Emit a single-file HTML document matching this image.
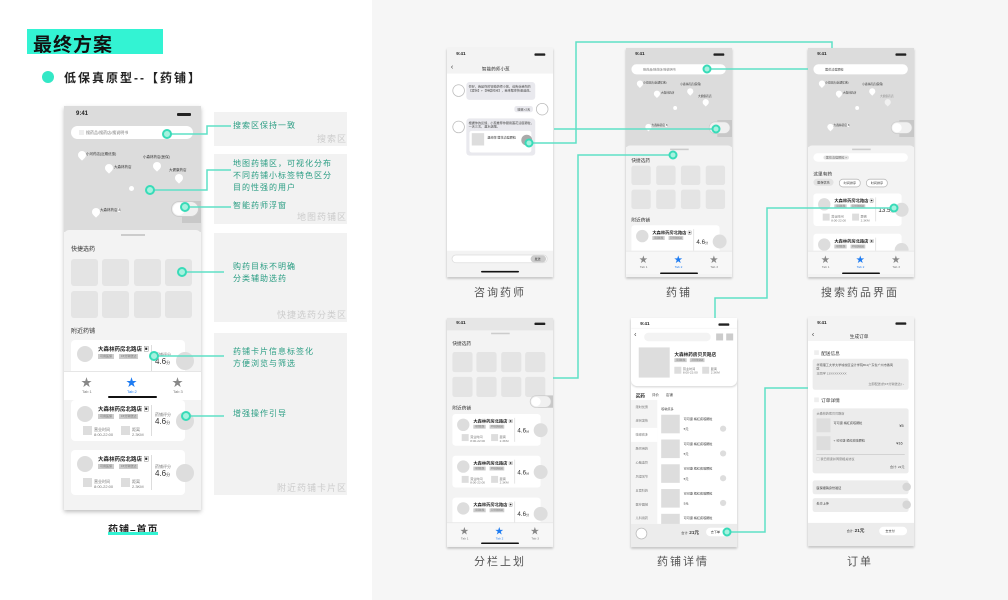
<!DOCTYPE html>
<html><head><meta charset="utf-8">
<style>
*{margin:0;padding:0;box-sizing:border-box}
body{width:1008px;height:600px;position:relative;overflow:hidden;background:#fff;font-family:"Liberation Sans","Noto Sans CJK SC",sans-serif}
.a{position:absolute}
.tx{font-size:4px;color:#777;white-space:nowrap;line-height:1.3}
.ph{position:absolute;width:137px;height:296px;transform:scale(.774);transform-origin:0 0;overflow:hidden;background:#f3f3f3;box-shadow:0 2px 3px rgba(0,0,0,.25)}
.st{font-size:6px;font-weight:bold;color:#222}
.ic{width:14px;height:3px;background:#222;border-radius:1px}
.pin{width:8px;height:8px;background:#fff;border-radius:50% 50% 50% 0;transform:rotate(-45deg)}
.pl{font-size:3.5px;color:#333;white-space:nowrap}
.card{background:#fff;border-radius:4px;width:114px;height:41px;position:absolute;overflow:visible}
.av{position:absolute;width:16px;height:16px;border-radius:50%;background:#ddd;left:6px;top:6px}
.ct{position:absolute;font-size:5.5px;font-weight:bold;color:#222;left:27px;top:5px;white-space:nowrap}
.tg{position:absolute;background:#ccc;font-size:3px;color:#777;height:5px;line-height:5px;padding:0 2px;white-space:nowrap}
.sq{position:absolute;width:9px;height:9px;background:#ddd}
.vl{position:absolute;width:1px;background:#ddd;left:80px;top:5px;height:31px}
.num{position:absolute;font-size:8px;color:#333;left:84px;top:17px}
.gc{position:absolute;width:18px;height:18px;border-radius:50%;background:#ddd;left:105px;top:12px}
.cell{position:absolute;width:27px;height:27px;background:#e4e4e4;border-radius:3px}
.tab{position:absolute;left:0;width:137px;height:30px;background:#f7f7f7;border-top:1px solid #e6e6e6}
.star{position:absolute;font-size:11px;color:#888;top:2px}
.ann{position:absolute;background:#f2f2f2;left:214px;width:133px}
.wm{position:absolute;right:0;bottom:1px;font-size:9px;color:#ccc;letter-spacing:1px}
.at{position:absolute;font-size:8px;color:#2a9d83;letter-spacing:1px;line-height:12px;left:233px;white-space:nowrap}
.cap{position:absolute;font-size:11px;color:#555;letter-spacing:2px;text-align:center;width:120px}
.hb{position:absolute;height:2px;background:#111;border-radius:1px}
.h6{font-size:6px;color:#333;white-space:nowrap}
</style></head><body>
<div class="a" style="left:372px;top:0;width:636px;height:600px;background:#f6f6f6"></div>

<div class="a" style="left:27px;top:29px;width:136px;height:25px;background:#33f3d3"></div>
<div class="a" style="left:33px;top:30px;font-size:19px;font-weight:bold;color:#111;letter-spacing:1px">最终方案</div>
<div class="a" style="left:42px;top:71px;width:12px;height:12px;border-radius:50%;background:#33e8c6"></div>
<div class="a" style="left:64px;top:69px;font-size:12px;font-weight:bold;color:#222;letter-spacing:2px">低保真原型--【药铺】</div>

<div class="ann" style="top:112px;height:34px"><div class="wm">搜索区</div></div>
<div class="ann" style="top:154px;height:70px"><div class="wm">地图药铺区</div></div>
<div class="ann" style="top:233px;height:89px"><div class="wm">快捷选药分类区</div></div>
<div class="ann" style="top:333px;height:162px"><div class="wm">附近药铺卡片区</div></div>
<div class="at" style="top:120px">搜索区保持一致</div>
<div class="at" style="top:158px">地图药铺区，可视化分布<br>不同药铺小标签特色区分<br>目的性强的用户</div>
<div class="at" style="top:200px">智能药师浮窗</div>
<div class="at" style="top:261px">购药目标不明确<br>分类辅助选药</div>
<div class="at" style="top:346px">药铺卡片信息标签化<br>方便浏览与筛选</div>
<div class="at" style="top:408px">增强操作引导</div>

<div class="a" style="left:64px;top:106px;width:137px;height:404px;background:#f3f3f3;box-shadow:0 2px 4px rgba(0,0,0,.25);overflow:hidden">
  <div class="a" style="left:0;top:0;width:137px;height:126px;background:#dcdcdc"></div>
  <div class="a st" style="left:12px;top:5px">9:41</div><div class="a ic" style="left:113px;top:7px"></div>
  <div class="a" style="left:7px;top:20px;width:122px;height:13px;background:#fff;border-radius:7px"></div>
  <div class="a" style="left:15px;top:24px;width:5px;height:5px;background:#eee"></div>
  <div class="a tx" style="left:22px;top:24px">搜药品/搜药店/搜说明书</div>
  <div class="a pin" style="left:14px;top:45px"></div><div class="a pl" style="left:22px;top:46px">小河药店(近期优惠)</div>
  <div class="a pin" style="left:41px;top:58px"></div><div class="a pl" style="left:50px;top:59px">大森林药店</div>
  <div class="a pin" style="left:89px;top:56px"></div><div class="a pl" style="left:79px;top:49px">小森林药店(医保)</div>
  <div class="a pin" style="left:111px;top:68px"></div><div class="a pl" style="left:105px;top:62px">大健康药店</div>
  <div class="a" style="left:65px;top:80px;width:5px;height:5px;border-radius:50%;background:#fff"></div>
  <div class="a pin" style="left:28px;top:102px"></div><div class="a pl" style="left:36px;top:102px">大森林药店 <span style="background:#fff">8</span></div>
  <div class="a" style="left:118px;top:95px;width:19px;height:22px;background:#c8c8c8"></div>
  <div class="a" style="left:107px;top:95px;width:28px;height:16px;border:1.5px solid #ccc;border-radius:8px;background:#f0f0f0"></div>
  <div class="a" style="left:109px;top:97px;width:12px;height:12px;border-radius:50%;background:#fff"></div>
  <div class="a" style="left:0;top:124px;width:137px;height:290px;background:#f3f3f3;border-radius:5px 5px 0 0"></div>
  <div class="a" style="left:57px;top:128px;width:24px;height:1.5px;background:#ccc"></div>
  <div class="a h6" style="left:7px;top:138px">快捷选药</div>
  <div class="cell" style="left:7px;top:153px"></div><div class="cell" style="left:38px;top:153px"></div><div class="cell" style="left:70px;top:153px"></div><div class="cell" style="left:101px;top:153px"></div>
  <div class="cell" style="left:7px;top:185px"></div><div class="cell" style="left:38px;top:185px"></div><div class="cell" style="left:70px;top:185px"></div><div class="cell" style="left:101px;top:185px"></div>
  <div class="a h6" style="left:7px;top:220px">附近药铺</div>
  <div class="card" style="left:7px;top:234px"><div class="av"></div><div class="ct">大森林药房北路店 ▣</div><div class="tg" style="left:27px;top:14px">可用医保</div><div class="tg" style="left:48px;top:14px">15分钟送达</div><div class="vl"></div><div class="tx" style="position:absolute;left:84px;top:12px">药铺评分</div><div class="num">4.6<small style="font-size:4px">分</small></div><div class="gc"></div></div>
  <div class="tab" style="top:265px;background:#fff"><div class="star" style="left:17px">★</div><div class="star" style="left:62px;color:#1e7cf2">★</div><div class="star" style="left:108px">★</div><div class="tx" style="position:absolute;left:18px;top:17px">Tab 1</div><div class="tx" style="position:absolute;left:63px;top:17px;color:#1e7cf2">Tab 2</div><div class="tx" style="position:absolute;left:109px;top:17px">Tab 3</div></div>
  <div class="hb" style="left:44px;top:290px;width:49px"></div>
  <div class="a" style="left:0;top:294px;width:137px;height:110px;background:#f3f3f3"></div>
  <div class="card" style="left:7px;top:294px"><div class="av"></div><div class="ct">大森林药房北路店 ▣</div><div class="tg" style="left:27px;top:14px">可用医保</div><div class="tg" style="left:48px;top:14px">15分钟送达</div><div class="sq" style="left:12px;top:26px"></div><div class="tx" style="position:absolute;left:23px;top:27px">营业时间<br>8:00-22:00</div><div class="sq" style="left:50px;top:26px"></div><div class="tx" style="position:absolute;left:61px;top:27px">距离<br>2.3KM</div><div class="vl"></div><div class="tx" style="position:absolute;left:84px;top:12px">药铺评分</div><div class="num">4.6<small style="font-size:4px">分</small></div><div class="gc"></div></div>
  <div class="card" style="left:7px;top:344px;height:45px"><div class="av"></div><div class="ct">大森林药房北路店 ▣</div><div class="tg" style="left:27px;top:14px">可用医保</div><div class="tg" style="left:48px;top:14px">15分钟送达</div><div class="sq" style="left:12px;top:28px"></div><div class="tx" style="position:absolute;left:23px;top:29px">营业时间<br>8:00-22:00</div><div class="sq" style="left:50px;top:28px"></div><div class="tx" style="position:absolute;left:61px;top:29px">距离<br>2.3KM</div><div class="vl" style="height:35px"></div><div class="tx" style="position:absolute;left:84px;top:14px">药铺评分</div><div class="num" style="top:19px">4.6<small style="font-size:4px">分</small></div><div class="gc" style="top:14px"></div></div>
</div>
<div class="a" style="left:108px;top:521px;font-size:10px;font-weight:bold;color:#222;letter-spacing:1px">药铺–首页</div>
<div class="a" style="left:108px;top:532px;width:50px;height:3px;background:#33f3d3"></div>

<div class="ph" style="left:447px;top:48px;background:#fff">
  <div class="a" style="left:0;top:0;width:137px;height:33px;background:#f3f3f3"></div>
  <div class="a st" style="left:12px;top:5px">9:41</div><div class="a ic" style="left:113px;top:7px"></div>
  <div class="a" style="left:5px;top:19px;font-size:9px;color:#333">‹</div>
  <div class="a h6" style="left:45px;top:22px">智能药师小葱</div>
  <div class="a" style="left:7px;top:47px;width:16px;height:16px;border-radius:50%;border:1px solid #bbb"></div>
  <div class="a tx" style="left:25px;top:44px;width:89px;height:23px;background:#e9e9ee;border-radius:4px;padding:3px;white-space:normal;color:#444">你好，我是你的智能药师小葱，请告诉我你的【症状】+【持续时间】，我来帮你快速选药。</div>
  <div class="a tx" style="left:87px;top:75px;width:24px;height:8px;background:#e9e9ee;border-radius:3px;padding:2px 4px;color:#444">咳嗽+2天</div>
  <div class="a" style="left:115px;top:71px;width:16px;height:16px;border-radius:50%;border:1px solid #bbb"></div>
  <div class="a" style="left:7px;top:94px;width:16px;height:16px;border-radius:50%;border:1px solid #bbb"></div>
  <div class="a" style="left:25px;top:91px;width:89px;height:48px;background:#e9e9ee;border-radius:4px"></div>
  <div class="a tx" style="left:28px;top:94px;width:84px;white-space:normal;color:#444">根据你的反馈，小葱推荐你服用莲花清瘟颗粒，一天三次，温水送服。</div>
  <div class="a" style="left:29px;top:107px;width:80px;height:28px;background:#fff;border-radius:3px"></div>
  <div class="a" style="left:32px;top:110px;width:16px;height:16px;background:#ddd"></div>
  <div class="a tx" style="left:52px;top:113px;color:#333">温岭牌 莲花清瘟颗粒</div>
  <div class="a" style="left:96px;top:112px;width:14px;height:14px;border-radius:50%;background:#aaa"></div>
  <div class="a" style="left:0;top:262px;width:137px;height:34px;background:#f3f3f3"></div>
  <div class="a" style="left:6px;top:267px;width:124px;height:11px;border-radius:6px;background:#fff;border:1px solid #ddd"></div>
  <div class="a tx" style="left:108px;top:268px;width:20px;height:9px;border-radius:5px;background:#ccc;padding:2px 5px;color:#444">发送</div>
  <div class="hb" style="left:44px;top:288px;width:49px"></div>
</div>

<div class="ph" style="left:626px;top:48px">
  <div class="a" style="left:0;top:0;width:137px;height:128px;background:#dcdcdc"></div>
  <div class="a st" style="left:12px;top:5px">9:41</div><div class="a ic" style="left:113px;top:7px"></div>
  <div class="a" style="left:7px;top:21px;width:122px;height:13px;background:#fff;border-radius:7px"></div>
  <div class="a tx" style="left:22px;top:25px">搜药品/搜药店/搜说明书</div>
  <div class="a pin" style="left:14px;top:42px"></div><div class="a pl" style="left:22px;top:43px">小河药店(近期优惠)</div>
  <div class="a pin" style="left:36px;top:55px"></div><div class="a pl" style="left:45px;top:56px">大森林药店</div>
  <div class="a pin" style="left:79px;top:52px"></div><div class="a pl" style="left:70px;top:45px">小森林药店(医保)</div>
  <div class="a pin" style="left:99px;top:66px"></div><div class="a pl" style="left:93px;top:60px">大健康药店</div>
  <div class="a" style="left:61px;top:75px;width:5px;height:5px;border-radius:50%;background:#fff"></div>
  <div class="a pin" style="left:25px;top:98px"></div><div class="a pl" style="left:33px;top:98px">大森林药店 <span style="background:#fff">8</span></div>
  <div class="a" style="left:118px;top:93px;width:19px;height:22px;background:#c8c8c8"></div>
  <div class="a" style="left:107px;top:95px;width:28px;height:16px;border:1.5px solid #ccc;border-radius:8px;background:#f0f0f0"></div>
  <div class="a" style="left:0;top:126px;width:137px;height:170px;background:#f3f3f3;border-radius:5px 5px 0 0"></div>
  <div class="a" style="left:57px;top:130px;width:24px;height:1.5px;background:#ccc"></div>
  <div class="a h6" style="left:7px;top:140px">快捷选药</div>
  <div class="cell" style="left:7px;top:152px;width:25px;height:25px"></div><div class="cell" style="left:39px;top:152px;width:25px;height:25px"></div><div class="cell" style="left:71px;top:152px;width:25px;height:25px"></div><div class="cell" style="left:103px;top:152px;width:25px;height:25px"></div>
  <div class="cell" style="left:7px;top:183px;width:25px;height:25px"></div><div class="cell" style="left:39px;top:183px;width:25px;height:25px"></div><div class="cell" style="left:71px;top:183px;width:25px;height:25px"></div><div class="cell" style="left:103px;top:183px;width:25px;height:25px"></div>
  <div class="a h6" style="left:7px;top:217px">附近药铺</div>
  <div class="card" style="left:7px;top:229px"><div class="av"></div><div class="ct">大森林药房北路店 ▣</div><div class="tg" style="left:27px;top:14px">可用医保</div><div class="tg" style="left:48px;top:14px">15分钟送达</div><div class="vl"></div><div class="num">4.6<small style="font-size:4px">分</small></div><div class="gc"></div></div>
  <div class="tab" style="top:262px"><div class="star" style="left:17px">★</div><div class="star" style="left:62px;color:#1e7cf2">★</div><div class="star" style="left:108px">★</div><div class="tx" style="position:absolute;left:18px;top:17px">Tab 1</div><div class="tx" style="position:absolute;left:63px;top:17px;color:#1e7cf2">Tab 2</div><div class="tx" style="position:absolute;left:109px;top:17px">Tab 3</div></div>
  <div class="hb" style="left:44px;top:290px;width:49px"></div>
</div>

<div class="ph" style="left:808px;top:48px">
  <div class="a" style="left:0;top:0;width:137px;height:128px;background:#dcdcdc"></div>
  <div class="a st" style="left:12px;top:5px">9:41</div><div class="a ic" style="left:113px;top:7px"></div>
  <div class="a" style="left:7px;top:21px;width:122px;height:13px;background:#fff;border-radius:7px"></div>
  <div class="a tx" style="left:22px;top:25px;color:#444">莲花清瘟颗粒</div>
  <div class="a pin" style="left:14px;top:42px"></div><div class="a pl" style="left:22px;top:43px">小河药店(近期优惠)</div>
  <div class="a pin" style="left:36px;top:55px"></div><div class="a pl" style="left:45px;top:56px">大森林药店</div>
  <div class="a pin" style="left:79px;top:52px"></div><div class="a pl" style="left:70px;top:45px">小森林药店(医保)</div>
  <div class="a pin" style="left:99px;top:66px;opacity:.6"></div><div class="a pl" style="left:93px;top:60px;opacity:.5">大健康药店</div>
  <div class="a" style="left:61px;top:75px;width:5px;height:5px;border-radius:50%;background:#fff"></div>
  <div class="a pin" style="left:25px;top:98px"></div><div class="a pl" style="left:33px;top:98px">大森林药店 <span style="background:#fff">8</span></div>
  <div class="a" style="left:118px;top:93px;width:19px;height:22px;background:#c8c8c8"></div>
  <div class="a" style="left:107px;top:95px;width:28px;height:16px;border:1.5px solid #ccc;border-radius:8px;background:#f0f0f0"></div>
  <div class="a" style="left:109px;top:97px;width:12px;height:12px;border-radius:50%;background:#fff"></div>
  <div class="a" style="left:0;top:126px;width:137px;height:170px;background:#f3f3f3;border-radius:5px 5px 0 0"></div>
  <div class="a" style="left:57px;top:130px;width:24px;height:1.5px;background:#ccc"></div>
  <div class="a" style="left:7px;top:136px;width:122px;height:11px;background:#fff;border-radius:6px"></div>
  <div class="a tx" style="left:20px;top:139px;background:#e2e2e2;border-radius:3px;padding:0 3px">莲花清瘟颗粒 ×</div>
  <div class="a h6" style="left:7px;top:158px">这里有药</div>
  <div class="a tx" style="left:7px;top:169px;background:#e2e2e2;border-radius:5px;padding:2px 5px;color:#444">医保优先</div>
  <div class="a tx" style="left:40px;top:169px;background:#fff;border:1px solid #bbb;border-radius:5px;padding:2px 5px;color:#444">时间排序</div>
  <div class="a tx" style="left:75px;top:169px;background:#fff;border:1px solid #bbb;border-radius:5px;padding:2px 5px;color:#444">时间排序</div>
  <div class="card" style="left:7px;top:188px;height:42px"><div class="av"></div><div class="ct">大森林药房北路店 ▣</div><div class="tg" style="left:27px;top:14px">可用医保</div><div class="tg" style="left:48px;top:14px">15分钟送达</div><div class="sq" style="left:12px;top:26px"></div><div class="tx" style="position:absolute;left:23px;top:27px">营业时间<br>8:00-22:00</div><div class="sq" style="left:50px;top:26px"></div><div class="tx" style="position:absolute;left:61px;top:27px">距离<br>2.3KM</div><div class="vl"></div><div class="num">13.5<small style="font-size:4px">元</small></div><div class="gc"></div></div>
  <div class="card" style="left:7px;top:240px"><div class="av"></div><div class="ct">大森林药房北路店 ▣</div><div class="tg" style="left:27px;top:14px">可用医保</div><div class="tg" style="left:48px;top:14px">15分钟送达</div><div class="vl"></div><div class="gc"></div></div>
  <div class="tab" style="top:262px"><div class="star" style="left:17px">★</div><div class="star" style="left:62px;color:#1e7cf2">★</div><div class="star" style="left:108px">★</div><div class="tx" style="position:absolute;left:18px;top:17px">Tab 1</div><div class="tx" style="position:absolute;left:63px;top:17px;color:#1e7cf2">Tab 2</div><div class="tx" style="position:absolute;left:109px;top:17px">Tab 3</div></div>
  <div class="hb" style="left:44px;top:290px;width:49px"></div>
</div>

<div class="ph" style="left:447px;top:318px">
  <div class="a" style="left:0;top:0;width:137px;height:16px;background:#e6e6e6"></div>
  <div class="a st" style="left:12px;top:4px">9:41</div><div class="a ic" style="left:113px;top:6px"></div>
  <div class="a" style="left:57px;top:19px;width:24px;height:1.5px;background:#ccc"></div>
  <div class="a h6" style="left:7px;top:28px">快捷选药</div>
  <div class="cell" style="left:7px;top:44px;width:26px;height:26px"></div><div class="cell" style="left:38px;top:44px;width:26px;height:26px"></div><div class="cell" style="left:70px;top:44px;width:26px;height:26px"></div><div class="cell" style="left:101px;top:44px;width:26px;height:26px"></div>
  <div class="cell" style="left:7px;top:76px;width:26px;height:26px"></div><div class="cell" style="left:38px;top:76px;width:26px;height:26px"></div><div class="cell" style="left:70px;top:76px;width:26px;height:26px"></div><div class="cell" style="left:101px;top:76px;width:26px;height:26px"></div>
  <div class="a" style="left:118px;top:100px;width:19px;height:16px;background:#c8c8c8"></div>
  <div class="a" style="left:107px;top:100px;width:28px;height:16px;border:1.5px solid #ccc;border-radius:8px;background:#f0f0f0"></div>
  <div class="a" style="left:109px;top:102px;width:12px;height:12px;border-radius:50%;background:#fff"></div>
  <div class="a h6" style="left:7px;top:111px">附近药铺</div>
  <div class="card" style="left:7px;top:124px"><div class="av"></div><div class="ct">大森林药房北路店 ▣</div><div class="tg" style="left:27px;top:14px">可用医保</div><div class="tg" style="left:48px;top:14px">15分钟送达</div><div class="sq" style="left:12px;top:26px"></div><div class="tx" style="position:absolute;left:23px;top:27px">营业时间<br>8:00-22:00</div><div class="sq" style="left:50px;top:26px"></div><div class="tx" style="position:absolute;left:61px;top:27px">距离<br>2.3KM</div><div class="vl"></div><div class="num">4.6<small style="font-size:4px">分</small></div><div class="gc"></div></div>
  <div class="card" style="left:7px;top:178px"><div class="av"></div><div class="ct">大森林药房北路店 ▣</div><div class="tg" style="left:27px;top:14px">可用医保</div><div class="tg" style="left:48px;top:14px">15分钟送达</div><div class="sq" style="left:12px;top:26px"></div><div class="tx" style="position:absolute;left:23px;top:27px">营业时间<br>8:00-22:00</div><div class="sq" style="left:50px;top:26px"></div><div class="tx" style="position:absolute;left:61px;top:27px">距离<br>2.3KM</div><div class="vl"></div><div class="num">4.6<small style="font-size:4px">分</small></div><div class="gc"></div></div>
  <div class="card" style="left:7px;top:232px"><div class="av"></div><div class="ct">大森林药房北路店 ▣</div><div class="tg" style="left:27px;top:14px">可用医保</div><div class="tg" style="left:48px;top:14px">15分钟送达</div><div class="vl"></div><div class="num">4.6<small style="font-size:4px">分</small></div><div class="gc"></div></div>
  <div class="tab" style="top:264px"><div class="star" style="left:17px">★</div><div class="star" style="left:62px;color:#1e7cf2">★</div><div class="star" style="left:108px">★</div><div class="tx" style="position:absolute;left:18px;top:17px">Tab 1</div><div class="tx" style="position:absolute;left:63px;top:17px;color:#1e7cf2">Tab 2</div><div class="tx" style="position:absolute;left:109px;top:17px">Tab 3</div></div>
  <div class="hb" style="left:44px;top:290px;width:49px"></div>
</div>

<div class="ph" style="left:631px;top:318px;background:#fff">
  <div class="a st" style="left:12px;top:5px">9:41</div><div class="a ic" style="left:113px;top:7px"></div>
  <div class="a" style="left:0;top:14px;width:137px;height:74px;background:#fff;border-radius:0 0 8px 8px;box-shadow:0 1px 3px rgba(0,0,0,.2)"></div>
  <div class="a" style="left:4px;top:16px;font-size:9px;color:#333">‹</div>
  <div class="a" style="left:17px;top:19px;width:86px;height:11px;border-radius:6px;background:#f3f3f3"></div>
  <div class="a" style="left:110px;top:20px;width:9px;height:9px;background:#ccc"></div><div class="a" style="left:123px;top:20px;width:9px;height:9px;background:#ccc"></div>
  <div class="a" style="left:10px;top:38px;width:40px;height:39px;background:#ddd"></div>
  <div class="a" style="left:56px;top:42px;font-size:6px;font-weight:bold;color:#222;white-space:nowrap">大森林药房贝贝路店</div>
  <div class="tg" style="left:56px;top:52px">可用医保</div><div class="tg" style="left:76px;top:52px">15分钟送达</div>
  <div class="sq" style="left:56px;top:63px"></div><div class="tx" style="position:absolute;left:67px;top:63px">营业时间<br>8:00-22:00</div>
  <div class="sq" style="left:92px;top:63px"></div><div class="tx" style="position:absolute;left:103px;top:63px">距离<br>2.3KM</div>
  <div class="a" style="left:6px;top:96px;font-size:6px;font-weight:bold;color:#222">买药</div>
  <div class="a tx" style="left:27px;top:97px;font-size:4.5px;color:#444">评价</div><div class="a tx" style="left:45px;top:97px;font-size:4.5px;color:#444">店铺</div>
  <div class="a" style="left:0;top:106px;width:34px;height:160px;background:#f4f4f4"></div>
  <div class="a tx" style="left:6px;top:112px">限时优惠</div><div class="a tx" style="left:6px;top:130px">感冒发热</div>
  <div class="a" style="left:0;top:142px;width:34px;height:18px;background:#fff"></div><div class="a tx" style="left:6px;top:148px">咳嗽痰多</div>
  <div class="a tx" style="left:6px;top:166px">肠胃用药</div><div class="a tx" style="left:6px;top:184px">心脑血管</div><div class="a tx" style="left:6px;top:202px">风湿关节</div><div class="a tx" style="left:6px;top:220px">五官科药</div><div class="a tx" style="left:6px;top:238px">医疗器械</div><div class="a tx" style="left:6px;top:256px">儿科用药</div>
  <div class="a tx" style="left:39px;top:115px;color:#444">咳嗽痰多</div>
  <div class="a" style="left:39px;top:125px;width:24px;height:24px;background:#ddd"></div><div class="a tx" style="left:68px;top:128px;color:#333">可可康 橘红痰咳颗粒</div><div class="a tx" style="left:68px;top:141px;color:#333">5元</div><div class="a" style="left:115px;top:139px;width:8px;height:8px;border-radius:50%;background:#ddd"></div>
  <div class="a" style="left:39px;top:157px;width:24px;height:24px;background:#ddd"></div><div class="a tx" style="left:68px;top:160px;color:#333">可可康 橘红痰咳颗粒</div><div class="a tx" style="left:68px;top:173px;color:#333">5元</div><div class="a" style="left:115px;top:171px;width:8px;height:8px;border-radius:50%;background:#ddd"></div>
  <div class="a" style="left:39px;top:189px;width:24px;height:24px;background:#ddd"></div><div class="a tx" style="left:68px;top:192px;color:#333">可可康 橘红痰咳颗粒</div><div class="a tx" style="left:68px;top:205px;color:#333">5元</div><div class="a" style="left:115px;top:203px;width:8px;height:8px;border-radius:50%;background:#ddd"></div>
  <div class="a" style="left:39px;top:221px;width:24px;height:24px;background:#ddd"></div><div class="a tx" style="left:68px;top:224px;color:#333">可可康 橘红痰咳颗粒</div><div class="a tx" style="left:68px;top:237px;color:#333">5元</div><div class="a" style="left:115px;top:235px;width:8px;height:8px;border-radius:50%;background:#ddd"></div>
  <div class="a" style="left:39px;top:253px;width:24px;height:24px;background:#ddd"></div><div class="a tx" style="left:68px;top:256px;color:#333">可可康 橘红痰咳颗粒</div>
  <div class="a" style="left:0;top:266px;width:137px;height:30px;background:#ececec"></div>
  <div class="a" style="left:6px;top:271px;width:15px;height:15px;border-radius:50%;border:1px solid #bbb;background:#fff"></div>
  <div class="a tx" style="left:65px;top:275px;color:#333">合计: <b style="font-size:6px">21元</b></div>
  <div class="a tx" style="left:97px;top:271px;width:30px;height:11px;border-radius:6px;background:#fff;padding:3px 6px;color:#333">去下单</div>
</div>

<div class="ph" style="left:808px;top:317px;background:#fff">
  <div class="a" style="left:0;top:0;width:137px;height:31px;background:#f3f3f3"></div>
  <div class="a st" style="left:12px;top:5px">9:41</div><div class="a ic" style="left:113px;top:7px"></div>
  <div class="a" style="left:5px;top:17px;font-size:9px;color:#333">‹</div>
  <div class="a h6" style="left:54px;top:20px">生成订单</div>
  <div class="a" style="left:8px;top:43px;width:6px;height:6px;background:#eee"></div><div class="a h6" style="left:17px;top:42px">配送信息</div>
  <div class="a" style="left:6px;top:54px;width:124px;height:40px;background:#ececec;border-radius:3px"></div>
  <div class="a tx" style="left:11px;top:59px;width:100px;white-space:normal;color:#555">华南理工大学大学城校区设计学院B11广东省广州市番禺区</div>
  <div class="a tx" style="left:11px;top:70px">王同学 13XXXXXXXX</div>
  <div class="a tx" style="left:78px;top:84px">立即配送(约15分钟送达) ›</div>
  <div class="a" style="left:8px;top:104px;width:6px;height:6px;background:#eee"></div><div class="a h6" style="left:17px;top:103px">订单详情</div>
  <div class="a" style="left:6px;top:118px;width:124px;height:84px;background:#ececec;border-radius:3px"></div>
  <div class="a tx" style="left:11px;top:122px">大森林药房贝贝路店</div>
  <div class="a" style="left:11px;top:131px;width:18px;height:18px;background:#ddd"></div><div class="a tx" style="left:33px;top:134px;color:#444">可可康 橘红痰咳颗粒</div><div class="a tx" style="left:118px;top:138px;font-size:5px;color:#333">¥5</div>
  <div class="a" style="left:11px;top:154px;width:18px;height:18px;background:#ddd"></div><div class="a tx" style="left:33px;top:157px;color:#444">+ 可可康 橘红痰咳颗粒</div><div class="a tx" style="left:114px;top:161px;font-size:5px;color:#333">¥16</div>
  <div class="a" style="left:11px;top:177px;width:114px;height:1px;background:#ccc"></div>
  <div class="a tx" style="left:11px;top:181px">▢ 我已阅读并同意相关协议</div>
  <div class="a tx" style="left:106px;top:191px;color:#444">合计: 21元</div>
  <div class="a" style="left:6px;top:211px;width:124px;height:18px;background:#ececec;border-radius:3px"></div><div class="a tx" style="left:11px;top:218px;color:#333">医保报销身份验证</div><div class="a" style="left:122px;top:214px;width:11px;height:11px;border-radius:50%;background:#d6d6d6"></div>
  <div class="a" style="left:6px;top:234px;width:124px;height:18px;background:#ececec;border-radius:3px"></div><div class="a tx" style="left:11px;top:238px;color:#333">处方上传</div><div class="a" style="left:122px;top:237px;width:11px;height:11px;border-radius:50%;background:#d6d6d6"></div>
  <div class="a" style="left:0;top:266px;width:137px;height:30px;background:#ececec"></div>
  <div class="a tx" style="left:50px;top:274px;color:#333">合计: <b style="font-size:6px">21元</b></div>
  <div class="a tx" style="left:92px;top:271px;width:36px;height:11px;border-radius:6px;background:#fff;padding:3px 8px;color:#333">去支付</div>
</div>

<div class="cap" style="left:440px;top:284px">咨询药师</div>
<div class="cap" style="left:619px;top:284px">药铺</div>
<div class="cap" style="left:800px;top:284px">搜索药品界面</div>
<div class="cap" style="left:440px;top:553px">分栏上划</div>
<div class="cap" style="left:623px;top:553px">药铺详情</div>
<div class="cap" style="left:800px;top:553px">订单</div>

<svg class="a" style="left:0;top:0" width="1008" height="600">
<g fill="none" stroke="#5fe0c6" stroke-width="1.5">
<polyline points="167,134 207,134 207,126 231,126"/>
<polyline points="150,190 207,190 207,170 231,170"/>
<polyline points="185,207 231,207"/>
<polyline points="182,272 224,272"/>
<polyline points="154,356 224,356"/>
<polyline points="186,416 224,416"/>
<polyline points="529,143 576,143 576,42 832,42 832,48"/>
<polyline points="554,129 716,129"/>
<polyline points="707,69 808,69"/>
<polyline points="673,155 578,155 578,378 553,378"/>
<polyline points="894,208 767,208 767,298 715,298 715,318"/>
<polyline points="727,532 765,532 765,388 808,388"/>
</g>
<g fill="#a6f2df" stroke="#38dbb8" stroke-width="2">
<circle cx="167" cy="134" r="4"/><circle cx="150" cy="190" r="4"/><circle cx="185" cy="207" r="4"/>
<circle cx="182" cy="272" r="4"/><circle cx="154" cy="356" r="4"/><circle cx="186" cy="416" r="4"/>
<circle cx="529" cy="143" r="3.5"/><circle cx="716" cy="129" r="3.5"/><circle cx="707" cy="69" r="3.5"/>
<circle cx="673" cy="155" r="3.5"/><circle cx="894" cy="208" r="3.5"/><circle cx="727" cy="532" r="3.5"/>
</g>
</svg>
</body></html>
